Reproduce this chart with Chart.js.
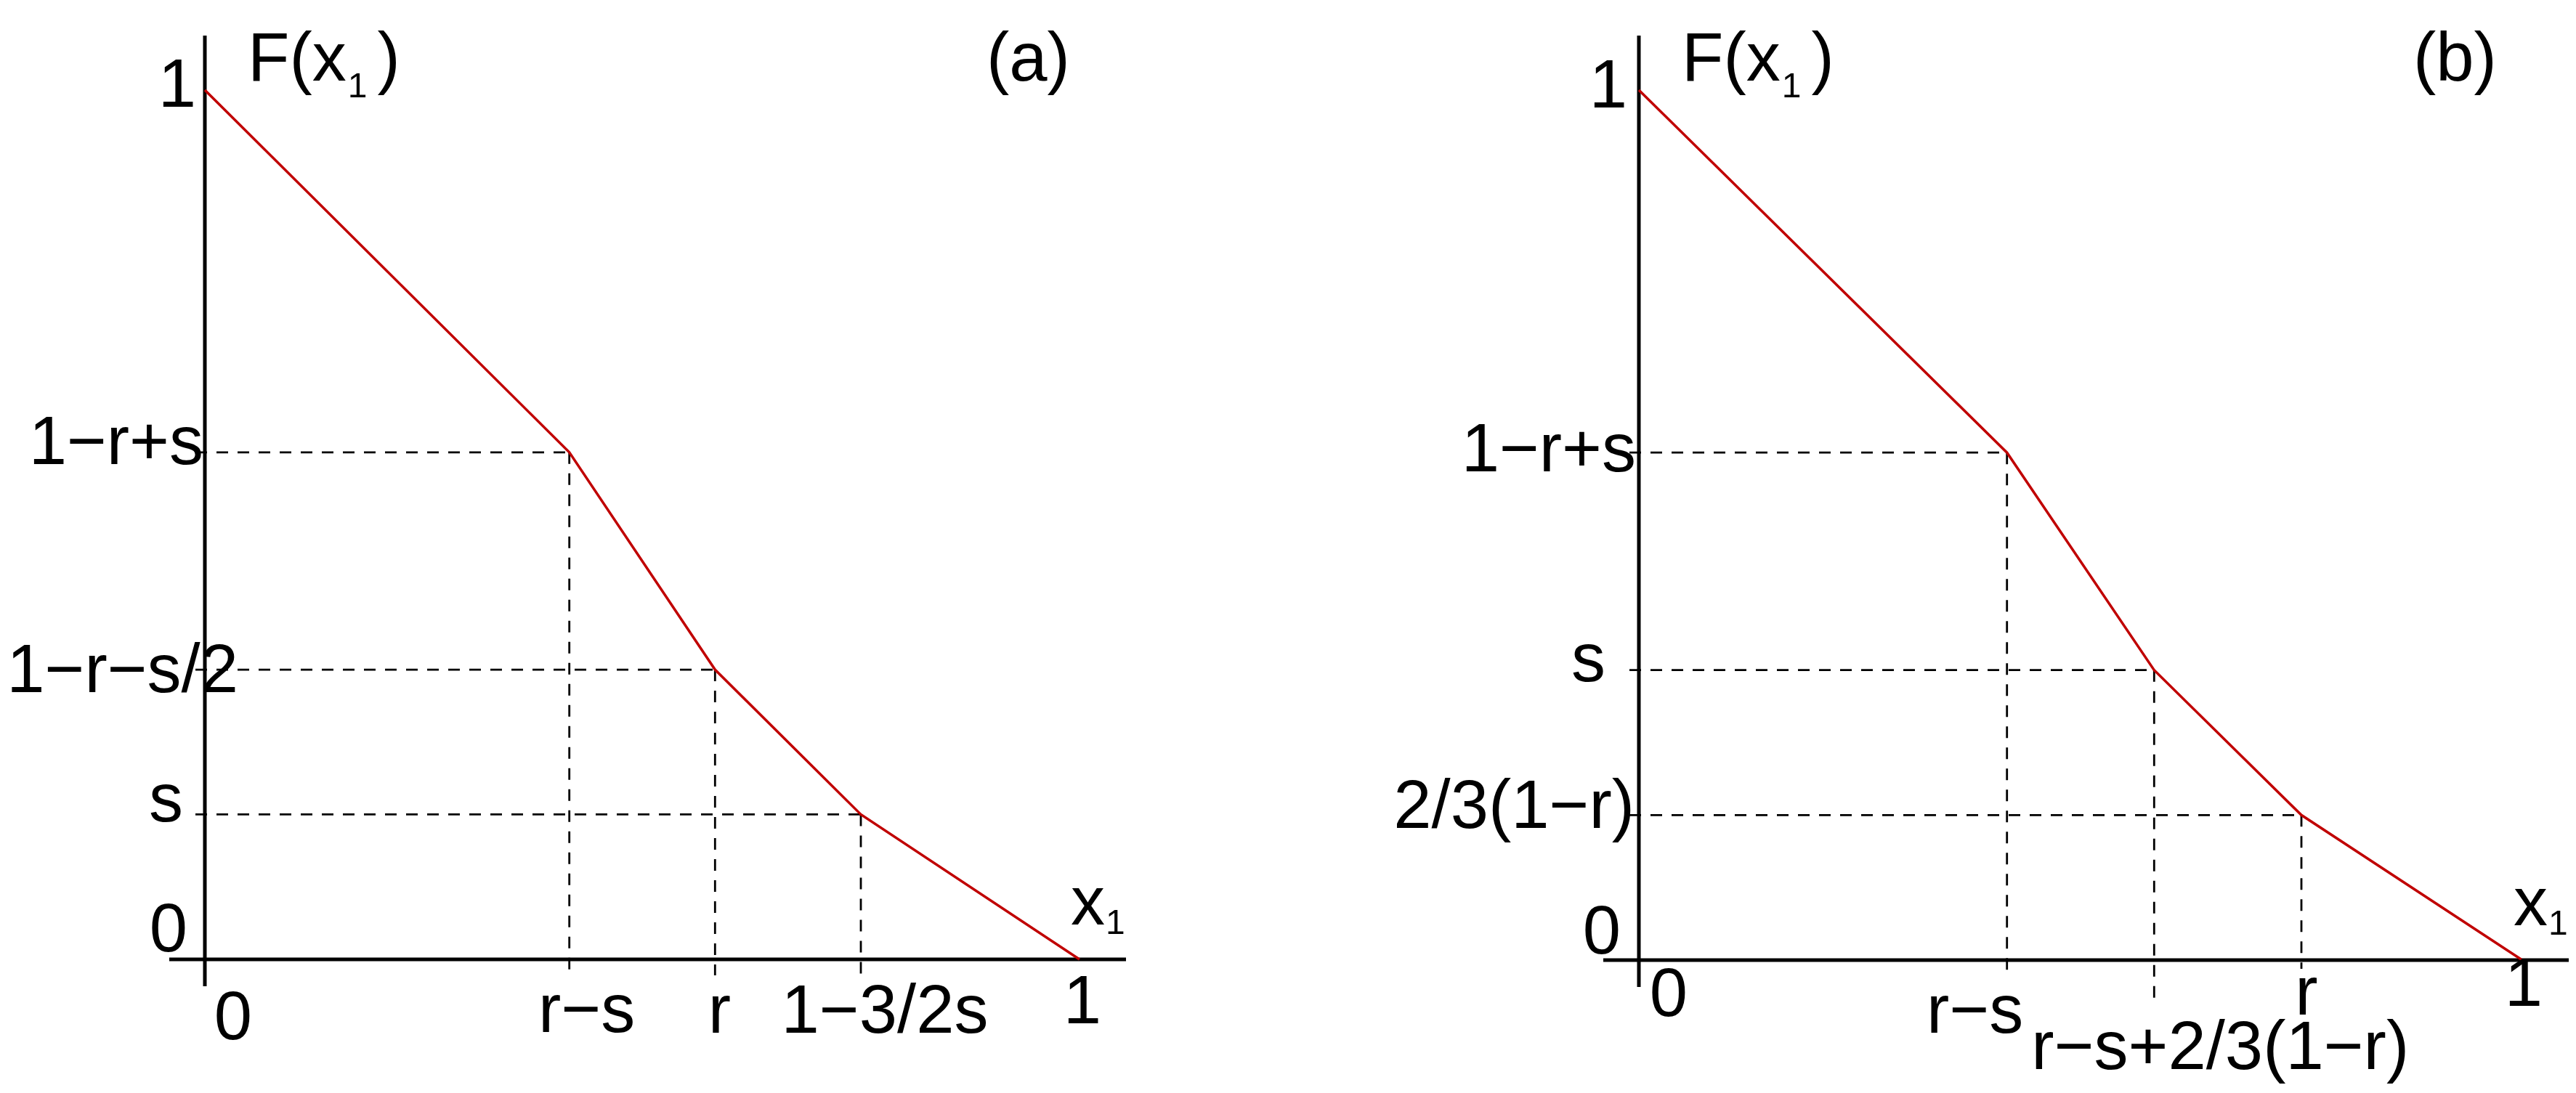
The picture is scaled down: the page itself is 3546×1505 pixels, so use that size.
<!DOCTYPE html>
<html>
<head>
<meta charset="utf-8">
<script src="https://cdn.jsdelivr.net/npm/chart.js@4.4.1/dist/chart.umd.min.js"></script>
<style>
  html, body { margin: 0; padding: 0; background: #ffffff; }
  #wrap { position: relative; width: 3546px; height: 1505px; background: #ffffff; }
  canvas { position: absolute; top: 0; }
  #cA { left: 0; }
  #cB { left: 1773px; }
</style>
</head>
<body>
<div id="wrap">
  <canvas id="cA" width="1773" height="1505"></canvas>
  <canvas id="cB" width="1773" height="1505"></canvas>
</div>
<script>
// ---------------- DATA ----------------
// Panel (a): piecewise-linear F(x1)
const panelA_x = [0, 0.4167, 0.5833, 0.75, 1];
const panelA_F = [1, 0.5833, 0.3333, 0.1667, 0];
const panelA_xTickValues = [0, 0.4167, 0.5833, 0.75, 1];
const panelA_xTickLabels = ['0', 'r\u2212s', 'r', '1\u22123/2s', '1'];
const panelA_yTickValues = [1, 0.5833, 0.3333, 0.1667, 0];
const panelA_yTickLabels = ['1', '1\u2212r+s', '1\u2212r\u2212s/2', 's', '0'];
const panelA_tag = '(a)';

// Panel (b)
const panelB_x = [0, 0.4167, 0.5833, 0.75, 1];
const panelB_F = [1, 0.5833, 0.3333, 0.1667, 0];
const panelB_xTickValues = [0, 0.4167, 0.5833, 0.75, 1];
const panelB_xTickLabels = ['0', 'r\u2212s', 'r\u2212s+2/3(1\u2212r)', 'r', '1'];
const panelB_yTickValues = [1, 0.5833, 0.3333, 0.1667, 0];
const panelB_yTickLabels = ['1', '1\u2212r+s', 's', '2/3(1\u2212r)', '0'];
const panelB_tag = '(b)';

const yAxisTitle = 'F(x';
const xAxisTitle = 'x';
const subscript = '1';

// ---------------- STYLE / LAYOUT ----------------
const FONT = '"Liberation Sans", Arial, Helvetica, sans-serif';
const MAIN_PX = 94;
const SUB_PX = 48;

const layoutA = {
  padding: { left: 282, right: 287, top: 124, bottom: 184 },
  // x label offsets: [dx from tick (center), baseline dy below x-axis]
  xLab: [[39, 110], [24, 100], [6, 101], [33, 101], [4, 88]],
  // y label offsets: [right edge dx from y-axis, baseline dy from tick]
  yLab: [[-12, 23], [-2, 16], [46, 31], [-30, 10], [-24, -11]],
  vDashExt: [22, 22, 22],
  tagDx: -128
};
const layoutB = {
  padding: { left: 483, right: 74, top: 124, bottom: 183 },
  xLab: [[41, 77], [-44, 100], [91, 150], [7, 75], [2, 63]],
  yLab: [[-16, 24], [-4, 26], [-46, 15], [-6, 18], [-25, -9]],
  vDashExt: [24, 62, 12],
  tagDx: -150
};

function makePlugin(xs, Fs, xTV, xTL, yTV, yTL, tag, L) {
  return {
    id: 'customAxes',
    beforeDatasetsDraw(chart) {
      const ctx = chart.ctx;
      const sx = chart.scales.x, sy = chart.scales.y;
      const x0 = sx.getPixelForValue(0), x1 = sx.getPixelForValue(1);
      const y0 = sy.getPixelForValue(0), y1 = sy.getPixelForValue(1);
      ctx.save();
      // dashed guides for interior break points
      ctx.strokeStyle = '#000000';
      ctx.lineWidth = 2.8;
      ctx.setLineDash([16, 13]);
      for (let i = 1; i < xs.length - 1; i++) {
        const px = sx.getPixelForValue(xs[i]);
        const py = sy.getPixelForValue(Fs[i]);
        ctx.beginPath();
        ctx.moveTo(x0 - 13, py);
        ctx.lineTo(px, py);
        ctx.stroke();
        ctx.beginPath();
        ctx.moveTo(px, py);
        ctx.lineTo(px, y0 + L.vDashExt[i - 1]);
        ctx.stroke();
      }
      ctx.setLineDash([]);
      // axes
      ctx.lineWidth = 5;
      ctx.beginPath();
      ctx.moveTo(x0, y1 - 75);
      ctx.lineTo(x0, y0 + 37);
      ctx.stroke();
      ctx.beginPath();
      ctx.moveTo(x0 - 49, y0);
      ctx.lineTo(x1 + 64, y0);
      ctx.stroke();
      ctx.restore();
    },
    afterDatasetsDraw(chart) {
      const ctx = chart.ctx;
      const sx = chart.scales.x, sy = chart.scales.y;
      const x0 = sx.getPixelForValue(0), x1 = sx.getPixelForValue(1);
      const y0 = sy.getPixelForValue(0), y1 = sy.getPixelForValue(1);
      ctx.save();
      ctx.fillStyle = '#000000';
      ctx.textBaseline = 'alphabetic';
      ctx.font = MAIN_PX + 'px ' + FONT;
      // x tick labels
      ctx.textAlign = 'center';
      xTV.forEach((v, i) => {
        const px = sx.getPixelForValue(v);
        ctx.fillText(xTL[i], px + L.xLab[i][0], y0 + L.xLab[i][1]);
      });
      // y tick labels
      ctx.textAlign = 'right';
      yTV.forEach((v, i) => {
        const py = sy.getPixelForValue(v);
        ctx.fillText(yTL[i], x0 + L.yLab[i][0], py + L.yLab[i][1]);
      });
      // y-axis title F(x1)
      ctx.textAlign = 'left';
      const tx = x0 + 59, tb = y1 - 13;
      ctx.fillText(yAxisTitle, tx, tb);
      const w1 = ctx.measureText(yAxisTitle).width;
      ctx.font = SUB_PX + 'px ' + FONT;
      ctx.fillText(subscript, tx + w1 + 2, tb + 23);
      const w2 = ctx.measureText(subscript).width;
      ctx.font = MAIN_PX + 'px ' + FONT;
      ctx.fillText(')', tx + w1 + 2 + w2 + 14, tb);
      // panel tag
      ctx.fillText(tag, x1 + L.tagDx, tb);
      // x-axis title x1
      const xx = x1 - 12, xb = y0 - 48;
      ctx.fillText(xAxisTitle, xx, xb);
      const w3 = ctx.measureText(xAxisTitle).width;
      ctx.font = SUB_PX + 'px ' + FONT;
      ctx.fillText(subscript, xx + w3 + 1, xb + 13);
      ctx.restore();
    }
  };
}

function build(canvasId, xs, Fs, xTV, xTL, yTV, yTL, tag, L) {
  const pts = xs.map((x, i) => ({ x: x, y: Fs[i] }));
  return new Chart(document.getElementById(canvasId), {
    type: 'line',
    data: {
      datasets: [{
        data: pts,
        borderColor: '#c00000',
        borderWidth: 3.5,
        pointRadius: 0,
        tension: 0,
        fill: false,
        clip: false
      }]
    },
    options: {
      responsive: false,
      animation: false,
      devicePixelRatio: 1,
      layout: { padding: L.padding },
      plugins: { legend: { display: false }, tooltip: { enabled: false }, title: { display: false } },
      scales: {
        x: { type: 'linear', min: 0, max: 1, display: false },
        y: { type: 'linear', min: 0, max: 1, display: false }
      }
    },
    plugins: [makePlugin(xs, Fs, xTV, xTL, yTV, yTL, tag, L)]
  });
}

build('cA', panelA_x, panelA_F, panelA_xTickValues, panelA_xTickLabels,
      panelA_yTickValues, panelA_yTickLabels, panelA_tag, layoutA);
build('cB', panelB_x, panelB_F, panelB_xTickValues, panelB_xTickLabels,
      panelB_yTickValues, panelB_yTickLabels, panelB_tag, layoutB);
</script>
</body>
</html>
